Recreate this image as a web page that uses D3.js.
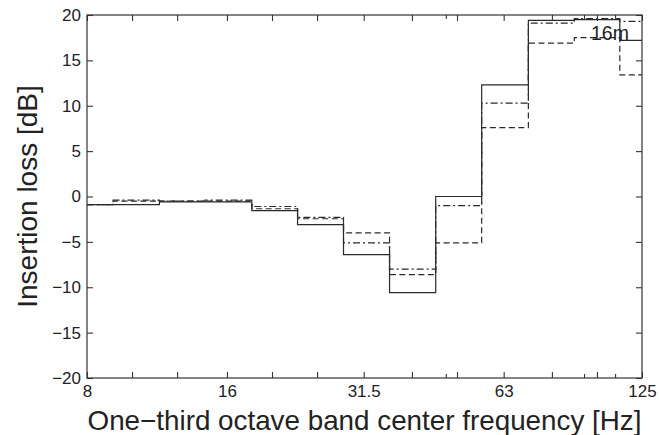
<!DOCTYPE html>
<html>
<head>
<meta charset="utf-8">
<script src="https://cdn.jsdelivr.net/npm/d3@7/dist/d3.min.js"></script>
<style>
  body { margin: 0; background: #fff; }
  svg { display: block; }
  text { font-family: "Liberation Sans", Arial, sans-serif; fill: #222; }
</style>
</head>
<body>
<svg width="659" height="435"></svg>
<script>

// band edges in Hz (one-third octave bands)
const bandEdges = [8, 9.1, 11.45, 14.35, 18.1, 22.7, 28.5, 35.8, 45, 56.5, 71.2, 89.4, 112, 125];

// insertion loss per band [dB]
const solidLoss   = [-0.9, -0.9, -0.6, -0.6, -1.55, -3.1, -6.4, -10.6, 0.0, 12.3, 19.4, 19.5, 17.2];
const dashDotLoss = [-0.9, -0.4, -0.5, -0.4, -1.1, -2.3, -5.1, -8.0, -1.0, 10.3, 19.1, 19.6, 19.3];
const dashedLoss  = [-0.9, -0.5, -0.5, -0.5, -1.35, -2.45, -4.0, -8.6, -5.1, 7.6, 16.9, 17.5, 13.4];

// axis ticks
const xTicks = [8, 10, 12.5, 16, 20, 25, 31.5, 40, 50, 63, 80, 100, 125];
const xTickLabels = {8: "8", 16: "16", 31.5: "31.5", 63: "63", 125: "125"};
const xMinorTicks = [47.3, 93.8, 109.4];
const yTicks = [-20, -15, -10, -5, 0, 5, 10, 15, 20];

const svg = d3.select("svg");
const margin = {left: 87, right: 17, top: 15, bottom: 57};
const W = 659 - margin.left - margin.right;
const H = 435 - margin.top - margin.bottom;

const x = d3.scaleLog().domain([8, 125]).range([0, W]);
const y = d3.scaleLinear().domain([-20, 20]).range([H, 0]);

const g = svg.append("g").attr("transform", `translate(${margin.left},${margin.top})`);

svg.append("defs").append("clipPath").attr("id", "plotclip")
  .append("rect").attr("x", 0).attr("y", 0).attr("width", W).attr("height", H);

// step lines
function steps(vals) {
  const pts = [];
  vals.forEach((v, i) => {
    pts.push([bandEdges[i], v]);
    pts.push([bandEdges[i + 1], v]);
  });
  return pts;
}

const line = d3.line().x(d => x(d[0])).y(d => y(d[1]));

const series = [
  {vals: dashedLoss, dash: "6,3.5"},
  {vals: dashDotLoss, dash: "7,3,2,3"},
  {vals: solidLoss, dash: null}
];

g.append("g").attr("clip-path", "url(#plotclip)")
  .selectAll("path").data(series).enter().append("path")
    .attr("d", d => line(steps(d.vals)))
    .style("fill", "none")
    .style("stroke", "#2a2a2a")
    .style("stroke-width", 1.2)
    .style("stroke-dasharray", d => d.dash);

// axes: ticks point inward
const fs = "17px";

g.append("g")
  .call(d3.axisLeft(y).tickValues(yTicks).tickSizeInner(-6).tickSizeOuter(0).tickPadding(6)
    .tickFormat(d => d < 0 ? "\u2212" + Math.abs(d) : d));
g.append("g").attr("transform", `translate(${W},0)`)
  .call(d3.axisRight(y).tickValues(yTicks).tickSizeInner(-6).tickSizeOuter(0).tickFormat(""));
g.append("g").attr("transform", `translate(0,${H})`)
  .call(d3.axisBottom(x).tickValues(xTicks).tickSizeInner(-6).tickSizeOuter(0).tickPadding(7)
    .tickFormat(d => xTickLabels[d] || ""));
g.append("g")
  .call(d3.axisTop(x).tickValues(xTicks).tickSizeInner(-6).tickSizeOuter(0).tickFormat(""));

g.append("g").attr("transform", `translate(0,${H})`)
  .call(d3.axisBottom(x).tickValues(xMinorTicks).tickSizeInner(-4).tickSizeOuter(0).tickFormat(""));
g.append("g")
  .call(d3.axisTop(x).tickValues(xMinorTicks).tickSizeInner(-4).tickSizeOuter(0).tickFormat(""));

g.selectAll(".domain").remove();
g.selectAll(".tick line").style("stroke", "#333").style("stroke-width", 1.1);
g.selectAll(".tick text").style("font-size", fs).style("fill", "#222")
  .style("font-family", "'Liberation Sans', Arial, sans-serif");

// frame
g.append("rect")
  .attr("width", W).attr("height", H)
  .style("fill", "none").style("stroke", "#333").style("stroke-width", 1.2);

// titles
svg.append("text")
  .attr("x", margin.left + W / 2).attr("y", 430)
  .attr("text-anchor", "middle")
  .style("font-size", "27.8px")
  .text("One\u2212third octave band center frequency [Hz]");

svg.append("text")
  .attr("transform", `translate(37,${margin.top + H / 2}) rotate(-90)`)
  .attr("text-anchor", "middle")
  .style("font-size", "28px")
  .text("Insertion loss [dB]");

svg.append("text")
  .attr("x", 591).attr("y", 40)
  .style("font-size", "19.5px")
  .text("16m");

</script>
</body>
</html>
